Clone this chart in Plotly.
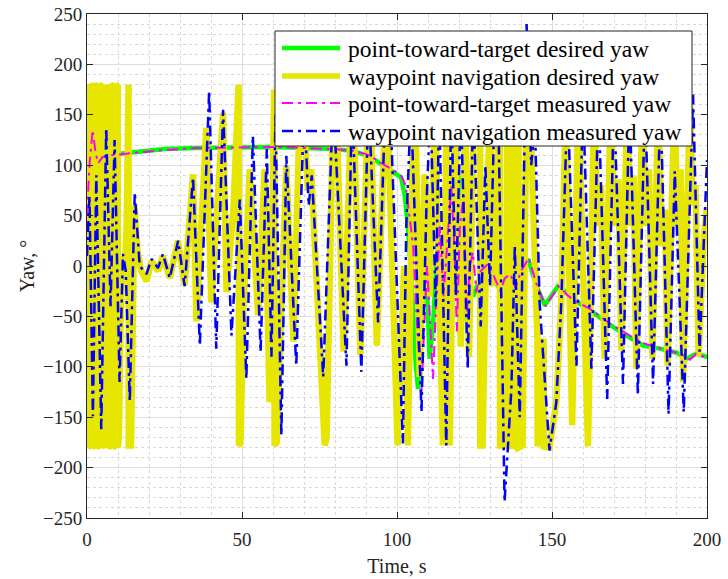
import plotly.graph_objects as go

# ---- point-toward-target desired yaw (deg) ----
ptt_desired_t = [0, 3, 8, 15, 25, 35, 50, 60, 70, 80, 86, 90, 93, 96, 99, 101.3,
                 102.5, 103.5, 104.8, 106.0, 106.8, 107.7, 108.6, 109.5, 110.5, 111.6,
                 112.8, 113.8, 115.0, 116.3, 117.5, 118.5, 119.3, 120.3, 121.5, 122.5,
                 123.5, 124.6, 125.6, 127, 129.4, 131, 133.1, 134.5, 136.4, 138, 140,
                 142.3, 145, 147.7, 149.5, 151.9, 153, 156.8, 163.3, 167.5, 174, 179.4,
                 184.8, 190.2, 193.4, 196.6, 199.8, 200]
ptt_desired_yaw = [108, 109, 110, 113, 116, 117, 118, 118, 117, 116, 114, 110, 105, 99, 93, 88,
                   70, 40, -20, -95, -122, -70, -15, -6, -92, -60,
                   10, 25, -30, 20, 55, 10, 70, 89, 10, -55,
                   -20, -30, -22, -8, 0, -10, -23, -12, -10, -20, -5,
                   7, -20, -39, -30, -20, -22, -33, -46, -56, -69, -79,
                   -82, -86, -92, -87, -90, -90]

# ---- waypoint navigation desired yaw (deg) ----
wpn_desired_t = [0.0, 0.3, 0.35, 0.9, 0.95, 1.6, 1.65, 2.3, 2.35, 3.1, 3.15, 3.9, 3.95, 4.7, 4.75,
                 5.2, 5.7, 6.3, 6.8, 6.85, 7.6, 7.65, 8.4, 8.45, 9.2, 9.25, 9.9, 9.95, 10.3,
                 10.8, 11.5, 12.2, 12.8, 13.4, 13.45, 14.2, 15.3, 16.3, 17.5, 19.2, 20.8,
                 22.9, 24.5, 26.7, 28.0, 29.4, 31.5, 34.2, 35.3, 38.5, 40.1, 43.9, 45.0,
                 47.3, 48.9, 49.0, 49.5, 50.5, 52.5, 55.2, 57.3, 58.9, 60.0, 60.4, 60.5,
                 61.2, 62.6, 64.3, 66.6, 68.6, 70.0, 71.3, 72.3, 76.7, 77.3, 79.4, 80.5,
                 82.8, 85.3, 86.0, 88.2, 90.7, 91.5, 93.5, 96.3, 97.0, 100.2, 101.3, 102.3,
                 103.5, 105.3, 106.0, 107.3, 108.9, 110.5, 112.3, 114.8, 116.0, 117.0,
                 118.6, 120.6, 122.0, 123.2, 124.8, 126.8, 126.85, 127.6, 129.0, 130.0,
                 131.2, 133.2, 133.25, 134.5, 135.3, 135.6, 135.65, 136.5, 136.55, 137.4,
                 137.45, 138.3, 138.35, 139.2, 139.25, 140.5, 141.6, 143.0, 145.3, 145.35,
                 146.2, 146.25, 147.3, 147.35, 148.6, 149.2, 151.4, 153.0, 154.5, 155.3,
                 156.5, 158.5, 159.5, 161.6, 163.6, 164.6, 165.8, 167.0, 169.0, 170.0,
                 171.4, 172.4, 174.3, 175.2, 176.3, 177.2, 179.2, 180.2, 181.3, 182.4,
                 184.3, 185.3, 186.4, 187.3, 189.5, 190.5, 191.5, 192.3, 194.5, 195.3,
                 196.3, 197.3, 199.0, 200.0]
wpn_desired_yaw = [40, 180, -180, -178, 180, 178, -180, -178, 180, 178, -180, -178, 180, 178, -180,
                   -178, -40, 130, 180, -180, -178, 180, 178, -180, -178, 180, 178, -180, -170,
                   -60, 10, 0, 40, 180, -178, -178, 60, 15, -5, -15, 5,
                   -5, 10, -12, 5, 25, -19, 91, -55, 137, -36, 152, -26,
                   60, 180, -178, -176, -40, 96, -49, 96, -135, 40, 175, -178,
                   -175, -50, 99, -75, 150, 140, 75, 96, -178, -170, 160, 150,
                   -85, 160, 150, -88, 160, 150, -79, 160, 150, -178, -80, 0,
                   -178, 160, 150, -110, 91, -30, 160, -178, 160, -178,
                   150, -80, 150, -90, 150, 180, -178, -178, 60, 150,
                   -20, 180, -178, -178, -135, 180, -180, -178, 180, 178,
                   -180, -178, 180, 178, -180, -178, 120, 150, -72, -179,
                   -72, -179, -72, -179, -179, -180, -135, -36, 165, 40,
                   -158, 165, 60, -179, 165, 40, 80, -92, 165, 40,
                   86, -84, 165, 40, 89, -102, 165, 40, 96, -92,
                   165, 20, 56, -99, 165, 40, 96, -115, 165, 60,
                   80, -90, 30, 58]

# ---- point-toward-target measured yaw (deg) ----
ptt_measured_t = [0, 0.8, 1.8, 2.8, 3.6, 5, 8, 15, 25, 35, 50, 60, 70, 80, 86, 90, 93, 96, 99,
                  101.5, 102.8, 104.0, 105.2, 106.5, 107.9, 108.8, 109.7, 110.6, 111.6, 112.6,
                  113.8, 115.0, 116.2, 117.5, 118.5, 119.3, 120.3, 121.5, 122.5, 123.5, 124.5,
                  125.6, 127, 129.4, 131, 133.3, 134.8, 136.6, 138.2, 140, 142.5, 145, 147.9,
                  149.5, 152.1, 153.2, 155, 158, 162, 166, 170, 173, 176, 180, 184, 189, 192,
                  194.5, 196.5, 198, 200]
ptt_measured_yaw = [50, 100, 135, 112, 102, 108, 110, 112, 115, 117, 118, 118, 117, 116, 114, 111,
                    106, 100, 95, 89, 80, 50, 20, -60, -125, -60, 0, -50, -112, -40,
                    40, -30, 20, 79, 20, -65, 40, 70, -50, 0, 13.6,
                    -26, -5, 2, -8, -25, -12, -8, -22, -5, 8, -18, -40,
                    -32, -20, -23, -29, -36, -42, -51, -60, -65, -71, -77, -81, -85, -88,
                    -93, -87, -89, -91]

# ---- waypoint navigation measured yaw (deg) ----
wpn_measured_t = [0.0, 0.8, 1.9, 3.0, 4.6, 6.2, 7.6, 8.9, 10.5, 11.6, 12.5, 13.8, 15.4, 17.0,
                  19.2, 20.8, 22.9, 24.5, 26.7, 29.4, 31.5, 34.2, 36.4, 39.4, 41.7, 43.9, 46.6,
                  49.3, 51.4, 53.5, 56.0, 58.0, 59.5, 60.8, 62.7, 64.3, 67.5, 70.0, 71.5, 72.5,
                  76.2, 79.4, 83.7, 85.5, 88.5, 90.8, 93.9, 96.3, 98.0, 101.9, 103.0, 104.5,
                  107.9, 109.5, 110.8, 112.5, 113.6, 115.9, 117.5, 119.0, 120.6, 122.8, 124.6,
                  127.0, 128.5, 130.0, 131.5, 132.6, 134.7, 136.9, 138.0, 139.6, 141.8, 143.3,
                  144.5, 146.0, 149.2, 151.4, 153.0, 155.0, 157.9, 160.0, 162.7, 165.0, 167.8,
                  170.0, 172.9, 175.0, 177.7, 180.0, 182.6, 185.0, 187.6, 189.6, 192.5, 195.5,
                  197.6, 199.8, 200.0]
wpn_measured_yaw = [10, 70, -149, 90, -162, 137, -40, 125, -115, 12, -5, -134, 73, 0,
                    -8, 7, -2, 12, -12, 25, -20, 88, -79, 174, -82, 155, -69,
                    66, -112, 129, -85, 116, -90, 150, -168, 109, -99, 160, 60, 90,
                    -110, 165, -99, 165, -105, 165, -56, 165, 140, -176, 40, 160,
                    -145, 60, 160, -40, 160, -178, 160, -30, 160, -102, 160,
                    -60, 100, -20, 160, 170, -234, -122, 20, -150, 240, 100,
                    140, -36, -183, -135, -36, 165, -99, 165, -102, 165, -132,
                    165, -117, 165, -128, 165, -117, 165, -147, 94, -145, 170,
                    -85, 99, 105]

series_names = ["point-toward-target desired yaw",
                "waypoint navigation desired yaw",
                "point-toward-target measured yaw",
                "waypoint navigation measured yaw"]

x_ticks = [0, 50, 100, 150, 200]
y_ticks = [-250, -200, -150, -100, -50, 0, 50, 100, 150, 200, 250]

SERIF = "Liberation Serif, Times New Roman, serif"
INK = "#262626"
dash_dot = "11px,5px,3px,5px"

styles = [
    dict(color="#00ff00", width=4.5),
    dict(color="#e6e600", width=6.5),
    dict(color="#ff00ff", width=2, dash=dash_dot),
    dict(color="#0000ff", width=2.5, dash=dash_dot),
]
series = [
    (ptt_desired_t, ptt_desired_yaw),
    (wpn_desired_t, wpn_desired_yaw),
    (ptt_measured_t, ptt_measured_yaw),
    (wpn_measured_t, wpn_measured_yaw),
]

fig = go.Figure()
for (t, yaw), name, style in zip(series, series_names, styles):
    fig.add_trace(go.Scatter(x=t, y=yaw, mode="lines", name=name,
                             line=style, showlegend=False))

# Figure geometry (pixels) used to place the boxed key inside the axes
W, H = 728, 579
ML, MR, MT, MB = 87, 21, 14, 61
PW, PH = W - ML - MR, H - MT - MB


def px_x(p):
    return (p - ML) / PW


def px_y(p):
    return (H - MB - p) / PH


# Boxed key in the upper right, drawn over the curves
key_left, key_right, key_top, key_bottom = 275, 692, 31, 146
row_y = [48, 76, 103, 131]
sample_x0, sample_x1, text_x = 282, 340, 346

shapes = [dict(type="rect", xref="paper", yref="paper", layer="above",
               x0=px_x(key_left), x1=px_x(key_right),
               y0=px_y(key_bottom), y1=px_y(key_top),
               fillcolor="white", line=dict(color=INK, width=1))]
annotations = []
for name, style, ry in zip(series_names, styles, row_y):
    ln = dict(color=style["color"], width=min(style["width"], 5.5))
    if "dash" in style:
        ln["dash"] = style["dash"]
    shapes.append(dict(type="line", xref="paper", yref="paper", layer="above",
                       x0=px_x(sample_x0), x1=px_x(sample_x1),
                       y0=px_y(ry), y1=px_y(ry), line=ln))
    annotations.append(dict(text=name, xref="paper", yref="paper",
                            x=px_x(text_x), y=px_y(ry + 1), xanchor="left",
                            yanchor="middle", showarrow=False,
                            font=dict(family=SERIF, size=23.5, color="#000000")))

axis_common = dict(
    showline=True, linecolor=INK, linewidth=1, mirror="ticks",
    ticks="inside", ticklen=6, tickcolor=INK,
    showgrid=True, gridcolor="#dedede", gridwidth=1,
    zeroline=False, automargin=False,
    tickfont=dict(family=SERIF, size=19, color=INK),
    minor=dict(dtick=10, showgrid=True, gridcolor="#d9d9d9", griddash="dot",
               gridwidth=1, ticks=""),
)

fig.update_layout(
    width=W, height=H,
    margin=dict(l=ML, r=MR, t=MT, b=MB),
    paper_bgcolor="white", plot_bgcolor="white",
    font=dict(family=SERIF, color=INK),
    xaxis=dict(range=[0, 200], tickvals=x_ticks, ticklabelstandoff=4,
               title=dict(text="Time, s", font=dict(family=SERIF, size=20), standoff=10),
               **axis_common),
    yaxis=dict(range=[-250, 250], tickvals=y_ticks,
               title=dict(text="Yaw, °", font=dict(family=SERIF, size=20), standoff=2),
               **axis_common),
    shapes=shapes,
    annotations=annotations,
    showlegend=False,
)

fig.write_html("out.html")
